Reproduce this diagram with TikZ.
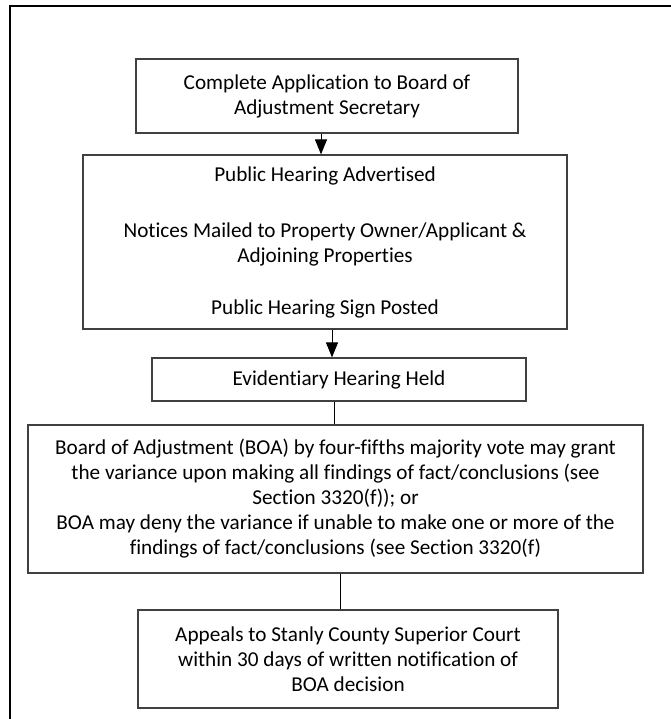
\documentclass[tikz,border=0pt]{standalone}
\usepackage{fontspec}
\setmainfont{Carlito}[Ligatures=NoCommon]
\usetikzlibrary{arrows.meta}
\begin{document}
\begin{tikzpicture}[x=1pt,y=-1pt,
  box/.style={draw=black!75, line width=1.2pt, rectangle, align=center, inner sep=0pt,
    font=\fontsize{21.2}{25}\selectfont},
  arr/.style={draw=black, line width=1pt, -{Triangle[length=15pt,width=12pt]}},
  link/.style={draw=black, line width=1pt}]
\useasboundingbox (0,0) rectangle (670,719);
\draw[line width=2.2pt] (10,730) -- (10,6) -- (690,6);
\node[box, minimum width=382pt, minimum height=74pt] (b1) at (327,96)
  {Complete Application to Board of\\Adjustment Secretary};
\node[box, minimum width=484pt, minimum height=174pt] (b2) at (325,242)
  {Public Hearing Advertised\\[31pt]Notices Mailed to Property Owner/Applicant \&\\Adjoining Properties\\[27pt]Public Hearing Sign Posted};
\node[box, minimum width=374pt, minimum height=43pt] (b3) at (339,379.5)
  {Evidentiary Hearing Held};
\node[box, minimum width=615pt, minimum height=148pt] (b4) at (335.5,499)
  {Board of Adjustment (BOA) by four-fifths majority vote may grant\\the variance upon making all findings of fact/conclusions (see\\Section 3320(f)); or\\BOA may deny the variance if unable to make one or more of the\\findings of fact/conclusions (see Section 3320(f)};
\node[box, minimum width=420pt, minimum height=98pt] (b5) at (348,659)
  {Appeals to Stanly County Superior Court\\within 30 days of written notification of\\BOA decision};
\draw[arr] ([xshift=-6pt]b1.south) -- ([xshift=-6pt]b1.south |- b2.north);
\draw[arr] ([xshift=7pt]b2.south) -- ([xshift=7pt]b2.south |- b3.north);
\draw[link] ([xshift=-4.5pt]b3.south) -- ([xshift=-4.5pt]b3.south |- b4.north);
\draw[link] ([xshift=4.5pt]b4.south) -- ([xshift=4.5pt]b4.south |- b5.north);
\end{tikzpicture}
\end{document}
